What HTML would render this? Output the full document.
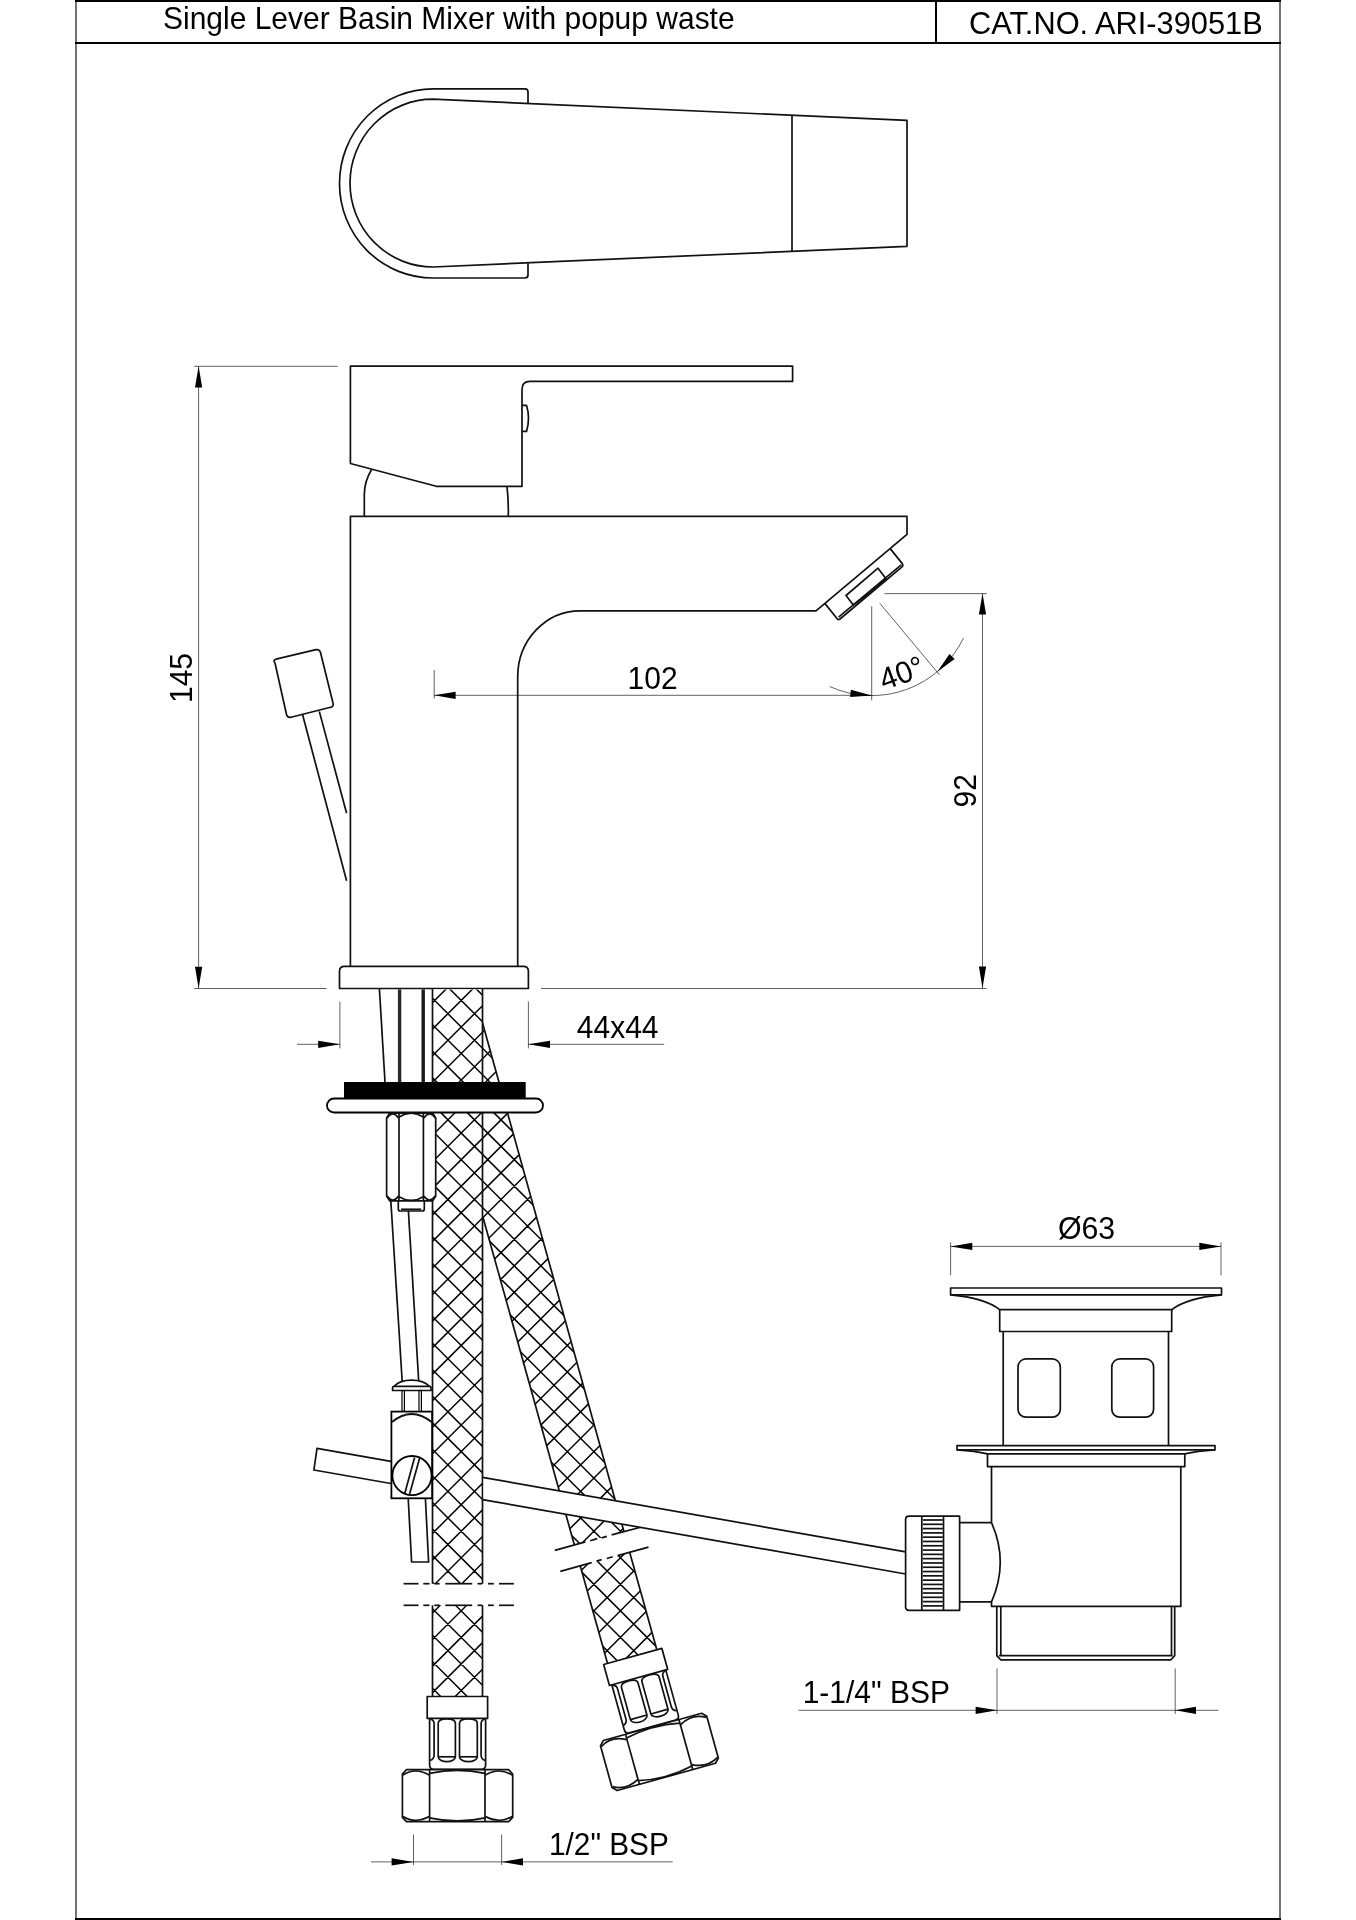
<!DOCTYPE html>
<html><head><meta charset="utf-8"><style>
html,body{margin:0;padding:0;background:#fff;}
svg{display:block;filter:grayscale(1);}
text{font-family:"Liberation Sans",sans-serif;fill:#000;}
.k{stroke:#111;stroke-width:1.7;fill:none;stroke-linejoin:round;}
.d{stroke:#000;stroke-width:0.95;fill:none;opacity:0.65;}
.h{stroke:#000;stroke-width:1.5;fill:none;}
.f1{stroke:#000;stroke-width:1.1;}
.f2{stroke:#000;stroke-width:2;}
</style></head><body>
<svg width="1356" height="1920" viewBox="0 0 1356 1920">
<g id="frame">
<line x1="75.00" y1="1.00" x2="1281.00" y2="1.00" class="f2" />
<line x1="75.00" y1="43.00" x2="1281.00" y2="43.00" class="f2" />
<line x1="936.00" y1="0.00" x2="936.00" y2="43.00" class="f2" />
<line x1="76.00" y1="0.00" x2="76.00" y2="1920.00" class="f1" />
<line x1="1280.00" y1="0.00" x2="1280.00" y2="1920.00" class="f1" />
<line x1="75.00" y1="1919.00" x2="1281.00" y2="1919.00" class="f2" />
</g>
<text x="0" y="0" transform="translate(163,28.9) scale(1,1.025)" font-size="30" >Single Lever Basin Mixer with popup waste</text>
<text x="0" y="0" transform="translate(969,33.6) scale(1,1.025)" font-size="30.8" >CAT.NO. ARI-39051B</text>
<path d="M528,103.8 L528,92 Q528,88.8 525,88.8 L433,88.8 A93.5,94.6 0 0 0 433,278 L525,278 Q528,278 528,275 L528,263.3" class="k" />
<path d="M907,120.4 L433,99.2 A83,83.9 0 0 0 433,267 L907,246.3 Z" class="k" />
<line x1="792.00" y1="115.50" x2="792.00" y2="251.40" class="k" />
<path d="M350.4,366.2 L792.6,366.2 L792.6,381.4 L530,381.4 Q522,381.4 522,389.4 L522,486.3 L436.2,486.3 L350.4,463.5 Z" class="k" />
<path d="M522,405.3 L526.5,405.3 Q530.5,418.3 526.5,431.4 L522,431.4" class="k" />
<path d="M371.6,469.5 Q364,482 364.3,496 L364.3,516" class="k" />
<path d="M507,486.3 Q508.6,500 508.3,516" class="k" />
<path d="M350.4,966.4 L350.4,516.4 L907,516.4 L907,534.4 L816,610.8 L580,610.8 A62.3,66 0 0 0 517.7,676.8 L517.7,966.4" class="k" />
<path d="M890.2,548.6 L902.3,563.6 Q903.5,565.5 902,566.8 L840,619 Q838.5,620 837.2,618.8 L825,603.6" class="k" />
<path d="M901.2,564.9 L838.6,617.2" class="k" stroke-width="1.1"/>
<path d="M846,595.5 L878,568.2 L886.2,578.9 Q871,593 853.3,605 Z" class="k" />
<path d="M339.5,988.5 L339.5,971.4 Q339.5,966.4 344.5,966.4 L523.4,966.4 Q528.4,966.4 528.4,971.4 L528.4,988.5 Z" class="k" />
<path d="M275,663 Q272.5,660.2 276,659.2 L316,649.7 Q319.5,649 320.5,652.5 L333,703 Q334,706.5 330.5,707.3 L291,717.3 Q287.5,718 286.5,714.5 Z" class="k" />
<line x1="302.60" y1="714.80" x2="346.60" y2="880.80" class="k" />
<line x1="319.30" y1="711.40" x2="346.60" y2="813.20" class="k" />
<line x1="194.20" y1="366.30" x2="337.70" y2="366.30" class="d" />
<line x1="194.20" y1="988.50" x2="326.70" y2="988.50" class="d" />
<line x1="198.60" y1="366.30" x2="198.60" y2="988.50" class="d" />
<path d="M198.60,366.30 L202.20,387.60 L195.00,387.60 Z" fill="#000"/>
<path d="M198.60,988.50 L195.00,966.70 L202.20,966.70 Z" fill="#000"/>
<text x="0" y="0" transform="translate(191.8,703) rotate(-90) scale(1,1.025)" font-size="30">145</text>
<line x1="434.20" y1="695.30" x2="871.70" y2="695.30" class="d" />
<line x1="434.20" y1="670.00" x2="434.20" y2="698.70" class="d" />
<path d="M434.20,695.30 L455.60,691.70 L455.60,698.90 Z" fill="#000"/>
<text x="0" y="0" transform="translate(627.6,688.6) scale(1,1.025)" font-size="30" >102</text>
<line x1="884.60" y1="593.60" x2="986.80" y2="593.60" class="d" />
<line x1="982.50" y1="593.60" x2="982.50" y2="988.30" class="d" />
<line x1="541.00" y1="988.50" x2="986.80" y2="988.50" class="d" />
<path d="M982.50,593.60 L986.10,614.40 L978.90,614.40 Z" fill="#000"/>
<path d="M982.50,988.30 L978.90,966.50 L986.10,966.50 Z" fill="#000"/>
<text x="0" y="0" transform="translate(976.1,807.4) rotate(-90) scale(1,1.025)" font-size="30">92</text>
<line x1="871.70" y1="606.30" x2="871.70" y2="700.40" class="d" />
<line x1="879.80" y1="603.30" x2="939.80" y2="675.20" class="d" />
<path d="M829.55,686.48 A102,102 0 0 0 963.53,638.01" class="d" />
<path d="M871.70,695.60 L850.12,696.95 L850.87,689.79 Z" fill="#000"/>
<path d="M937.26,671.74 L949.49,653.90 L954.67,658.90 Z" fill="#000"/>
<text x="0" y="0" transform="translate(884,690.6) rotate(-20) scale(1,1.025)" font-size="30">40&#176;</text>
<line x1="339.90" y1="1001.50" x2="339.90" y2="1048.40" class="d" />
<line x1="528.40" y1="1001.50" x2="528.40" y2="1048.40" class="d" />
<line x1="297.00" y1="1044.30" x2="339.90" y2="1044.30" class="d" />
<path d="M339.90,1044.30 L318.20,1047.90 L318.20,1040.70 Z" fill="#000"/>
<line x1="528.40" y1="1044.30" x2="664.20" y2="1044.30" class="d" />
<path d="M528.40,1044.30 L550.00,1040.70 L550.00,1047.90 Z" fill="#000"/>
<text x="0" y="0" transform="translate(576.8,1038.3) scale(1,1.025)" font-size="30" >44x44</text>
<defs>
<clipPath id="c1"><rect x="432.5" y="989.4" width="50" height="594.3"/><rect x="432.5" y="1605.3" width="50" height="91.2"/></clipPath>
<clipPath id="c2a"><polygon points="482.5,1022.6 624.0,1531.8 574.4,1545.1 482.7,1218"/></clipPath>
<clipPath id="c2b"><polygon points="580.3,1566.0 629.8,1552.7 656.9,1650.0 607.4,1663.1"/></clipPath>
</defs>
<g clip-path="url(#c2a)"><path d="M420.0,935.5 L720.0,635.5 M420.0,962.0 L720.0,662.0 M420.0,988.5 L720.0,688.5 M420.0,1015.1 L720.0,715.1 M420.0,1041.6 L720.0,741.6 M420.0,1068.2 L720.0,768.2 M420.0,1094.7 L720.0,794.7 M420.0,1121.2 L720.0,821.2 M420.0,1147.8 L720.0,847.8 M420.0,1174.3 L720.0,874.3 M420.0,1200.9 L720.0,900.9 M420.0,1227.4 L720.0,927.4 M420.0,1253.9 L720.0,953.9 M420.0,1280.5 L720.0,980.5 M420.0,1307.0 L720.0,1007.0 M420.0,1333.6 L720.0,1033.6 M420.0,1360.1 L720.0,1060.1 M420.0,1386.6 L720.0,1086.6 M420.0,1413.2 L720.0,1113.2 M420.0,1439.7 L720.0,1139.7 M420.0,1466.3 L720.0,1166.3 M420.0,1492.8 L720.0,1192.8 M420.0,1519.3 L720.0,1219.3 M420.0,1545.9 L720.0,1245.9 M420.0,1572.4 L720.0,1272.4 M420.0,1599.0 L720.0,1299.0 M420.0,1625.5 L720.0,1325.5 M420.0,1652.0 L720.0,1352.0 M420.0,1678.6 L720.0,1378.6 M420.0,1705.1 L720.0,1405.1 M420.0,1731.7 L720.0,1431.7 M420.0,1758.2 L720.0,1458.2 M420.0,1784.7 L720.0,1484.7 M420.0,1811.3 L720.0,1511.3 M420.0,1837.8 L720.0,1537.8 M420.0,1864.4 L720.0,1564.4 M420.0,1890.9 L720.0,1590.9 M420.0,1917.4 L720.0,1617.4 M420.0,1944.0 L720.0,1644.0 M420.0,1970.5 L720.0,1670.5 M420.0,1997.1 L720.0,1697.1 M420.0,2023.6 L720.0,1723.6 M420.0,2050.1 L720.0,1750.1 M420.0,640.8 L720.0,940.8 M420.0,667.3 L720.0,967.3 M420.0,693.8 L720.0,993.8 M420.0,720.4 L720.0,1020.4 M420.0,746.9 L720.0,1046.9 M420.0,773.5 L720.0,1073.5 M420.0,800.0 L720.0,1100.0 M420.0,826.5 L720.0,1126.5 M420.0,853.1 L720.0,1153.1 M420.0,879.6 L720.0,1179.6 M420.0,906.2 L720.0,1206.2 M420.0,932.7 L720.0,1232.7 M420.0,959.2 L720.0,1259.2 M420.0,985.8 L720.0,1285.8 M420.0,1012.3 L720.0,1312.3 M420.0,1038.9 L720.0,1338.9 M420.0,1065.4 L720.0,1365.4 M420.0,1091.9 L720.0,1391.9 M420.0,1118.5 L720.0,1418.5 M420.0,1145.0 L720.0,1445.0 M420.0,1171.6 L720.0,1471.6 M420.0,1198.1 L720.0,1498.1 M420.0,1224.6 L720.0,1524.6 M420.0,1251.2 L720.0,1551.2 M420.0,1277.7 L720.0,1577.7 M420.0,1304.3 L720.0,1604.3 M420.0,1330.8 L720.0,1630.8 M420.0,1357.3 L720.0,1657.3 M420.0,1383.9 L720.0,1683.9 M420.0,1410.4 L720.0,1710.4 M420.0,1437.0 L720.0,1737.0 M420.0,1463.5 L720.0,1763.5 M420.0,1490.0 L720.0,1790.0 M420.0,1516.6 L720.0,1816.6 M420.0,1543.1 L720.0,1843.1 M420.0,1569.7 L720.0,1869.7 M420.0,1596.2 L720.0,1896.2 M420.0,1622.7 L720.0,1922.7 M420.0,1649.3 L720.0,1949.3 M420.0,1675.8 L720.0,1975.8 M420.0,1702.4 L720.0,2002.4 M420.0,1728.9 L720.0,2028.9" class="h"/></g>
<g clip-path="url(#c2b)"><path d="M420.0,935.5 L720.0,635.5 M420.0,962.0 L720.0,662.0 M420.0,988.5 L720.0,688.5 M420.0,1015.1 L720.0,715.1 M420.0,1041.6 L720.0,741.6 M420.0,1068.2 L720.0,768.2 M420.0,1094.7 L720.0,794.7 M420.0,1121.2 L720.0,821.2 M420.0,1147.8 L720.0,847.8 M420.0,1174.3 L720.0,874.3 M420.0,1200.9 L720.0,900.9 M420.0,1227.4 L720.0,927.4 M420.0,1253.9 L720.0,953.9 M420.0,1280.5 L720.0,980.5 M420.0,1307.0 L720.0,1007.0 M420.0,1333.6 L720.0,1033.6 M420.0,1360.1 L720.0,1060.1 M420.0,1386.6 L720.0,1086.6 M420.0,1413.2 L720.0,1113.2 M420.0,1439.7 L720.0,1139.7 M420.0,1466.3 L720.0,1166.3 M420.0,1492.8 L720.0,1192.8 M420.0,1519.3 L720.0,1219.3 M420.0,1545.9 L720.0,1245.9 M420.0,1572.4 L720.0,1272.4 M420.0,1599.0 L720.0,1299.0 M420.0,1625.5 L720.0,1325.5 M420.0,1652.0 L720.0,1352.0 M420.0,1678.6 L720.0,1378.6 M420.0,1705.1 L720.0,1405.1 M420.0,1731.7 L720.0,1431.7 M420.0,1758.2 L720.0,1458.2 M420.0,1784.7 L720.0,1484.7 M420.0,1811.3 L720.0,1511.3 M420.0,1837.8 L720.0,1537.8 M420.0,1864.4 L720.0,1564.4 M420.0,1890.9 L720.0,1590.9 M420.0,1917.4 L720.0,1617.4 M420.0,1944.0 L720.0,1644.0 M420.0,1970.5 L720.0,1670.5 M420.0,1997.1 L720.0,1697.1 M420.0,2023.6 L720.0,1723.6 M420.0,2050.1 L720.0,1750.1 M420.0,640.8 L720.0,940.8 M420.0,667.3 L720.0,967.3 M420.0,693.8 L720.0,993.8 M420.0,720.4 L720.0,1020.4 M420.0,746.9 L720.0,1046.9 M420.0,773.5 L720.0,1073.5 M420.0,800.0 L720.0,1100.0 M420.0,826.5 L720.0,1126.5 M420.0,853.1 L720.0,1153.1 M420.0,879.6 L720.0,1179.6 M420.0,906.2 L720.0,1206.2 M420.0,932.7 L720.0,1232.7 M420.0,959.2 L720.0,1259.2 M420.0,985.8 L720.0,1285.8 M420.0,1012.3 L720.0,1312.3 M420.0,1038.9 L720.0,1338.9 M420.0,1065.4 L720.0,1365.4 M420.0,1091.9 L720.0,1391.9 M420.0,1118.5 L720.0,1418.5 M420.0,1145.0 L720.0,1445.0 M420.0,1171.6 L720.0,1471.6 M420.0,1198.1 L720.0,1498.1 M420.0,1224.6 L720.0,1524.6 M420.0,1251.2 L720.0,1551.2 M420.0,1277.7 L720.0,1577.7 M420.0,1304.3 L720.0,1604.3 M420.0,1330.8 L720.0,1630.8 M420.0,1357.3 L720.0,1657.3 M420.0,1383.9 L720.0,1683.9 M420.0,1410.4 L720.0,1710.4 M420.0,1437.0 L720.0,1737.0 M420.0,1463.5 L720.0,1763.5 M420.0,1490.0 L720.0,1790.0 M420.0,1516.6 L720.0,1816.6 M420.0,1543.1 L720.0,1843.1 M420.0,1569.7 L720.0,1869.7 M420.0,1596.2 L720.0,1896.2 M420.0,1622.7 L720.0,1922.7 M420.0,1649.3 L720.0,1949.3 M420.0,1675.8 L720.0,1975.8 M420.0,1702.4 L720.0,2002.4 M420.0,1728.9 L720.0,2028.9" class="h"/></g>
<path d="M482.4,1022.6 L624.0,1531.8" class="k" />
<path d="M482.9,1217 L574.4,1545.1" class="k" />
<path d="M580.3,1566.0 L607.4,1663.1" class="k" />
<path d="M629.8,1552.7 L656.9,1650.0" class="k" />
<rect x="432.5" y="989.4" width="50" height="707.1" fill="#fff"/>
<rect x="482.5" y="1583.7" width="0" height="0" fill="#fff"/>
<g clip-path="url(#c1)"><path d="M420.0,935.5 L720.0,635.5 M420.0,962.0 L720.0,662.0 M420.0,988.5 L720.0,688.5 M420.0,1015.1 L720.0,715.1 M420.0,1041.6 L720.0,741.6 M420.0,1068.2 L720.0,768.2 M420.0,1094.7 L720.0,794.7 M420.0,1121.2 L720.0,821.2 M420.0,1147.8 L720.0,847.8 M420.0,1174.3 L720.0,874.3 M420.0,1200.9 L720.0,900.9 M420.0,1227.4 L720.0,927.4 M420.0,1253.9 L720.0,953.9 M420.0,1280.5 L720.0,980.5 M420.0,1307.0 L720.0,1007.0 M420.0,1333.6 L720.0,1033.6 M420.0,1360.1 L720.0,1060.1 M420.0,1386.6 L720.0,1086.6 M420.0,1413.2 L720.0,1113.2 M420.0,1439.7 L720.0,1139.7 M420.0,1466.3 L720.0,1166.3 M420.0,1492.8 L720.0,1192.8 M420.0,1519.3 L720.0,1219.3 M420.0,1545.9 L720.0,1245.9 M420.0,1572.4 L720.0,1272.4 M420.0,1599.0 L720.0,1299.0 M420.0,1625.5 L720.0,1325.5 M420.0,1652.0 L720.0,1352.0 M420.0,1678.6 L720.0,1378.6 M420.0,1705.1 L720.0,1405.1 M420.0,1731.7 L720.0,1431.7 M420.0,1758.2 L720.0,1458.2 M420.0,1784.7 L720.0,1484.7 M420.0,1811.3 L720.0,1511.3 M420.0,1837.8 L720.0,1537.8 M420.0,1864.4 L720.0,1564.4 M420.0,1890.9 L720.0,1590.9 M420.0,1917.4 L720.0,1617.4 M420.0,1944.0 L720.0,1644.0 M420.0,1970.5 L720.0,1670.5 M420.0,1997.1 L720.0,1697.1 M420.0,2023.6 L720.0,1723.6 M420.0,2050.1 L720.0,1750.1 M420.0,640.8 L720.0,940.8 M420.0,667.3 L720.0,967.3 M420.0,693.8 L720.0,993.8 M420.0,720.4 L720.0,1020.4 M420.0,746.9 L720.0,1046.9 M420.0,773.5 L720.0,1073.5 M420.0,800.0 L720.0,1100.0 M420.0,826.5 L720.0,1126.5 M420.0,853.1 L720.0,1153.1 M420.0,879.6 L720.0,1179.6 M420.0,906.2 L720.0,1206.2 M420.0,932.7 L720.0,1232.7 M420.0,959.2 L720.0,1259.2 M420.0,985.8 L720.0,1285.8 M420.0,1012.3 L720.0,1312.3 M420.0,1038.9 L720.0,1338.9 M420.0,1065.4 L720.0,1365.4 M420.0,1091.9 L720.0,1391.9 M420.0,1118.5 L720.0,1418.5 M420.0,1145.0 L720.0,1445.0 M420.0,1171.6 L720.0,1471.6 M420.0,1198.1 L720.0,1498.1 M420.0,1224.6 L720.0,1524.6 M420.0,1251.2 L720.0,1551.2 M420.0,1277.7 L720.0,1577.7 M420.0,1304.3 L720.0,1604.3 M420.0,1330.8 L720.0,1630.8 M420.0,1357.3 L720.0,1657.3 M420.0,1383.9 L720.0,1683.9 M420.0,1410.4 L720.0,1710.4 M420.0,1437.0 L720.0,1737.0 M420.0,1463.5 L720.0,1763.5 M420.0,1490.0 L720.0,1790.0 M420.0,1516.6 L720.0,1816.6 M420.0,1543.1 L720.0,1843.1 M420.0,1569.7 L720.0,1869.7 M420.0,1596.2 L720.0,1896.2 M420.0,1622.7 L720.0,1922.7 M420.0,1649.3 L720.0,1949.3 M420.0,1675.8 L720.0,1975.8 M420.0,1702.4 L720.0,2002.4 M420.0,1728.9 L720.0,2028.9" class="h"/></g>
<line x1="432.50" y1="1200.80" x2="432.50" y2="1583.70" class="k" />
<line x1="432.50" y1="988.50" x2="432.50" y2="1112.60" class="k" />
<line x1="482.50" y1="988.50" x2="482.50" y2="1583.70" class="k" />
<line x1="432.50" y1="1605.30" x2="432.50" y2="1696.50" class="k" />
<line x1="482.50" y1="1605.30" x2="482.50" y2="1696.50" class="k" />
<line x1="403.60" y1="1583.70" x2="418.50" y2="1583.70" class="k" stroke-width="2"/>
<line x1="423.30" y1="1583.70" x2="429.50" y2="1583.70" class="k" stroke-width="2"/>
<line x1="434.30" y1="1583.70" x2="439.60" y2="1583.70" class="k" stroke-width="2"/>
<line x1="445.30" y1="1583.70" x2="472.20" y2="1583.70" class="k" stroke-width="2"/>
<line x1="477.50" y1="1583.70" x2="482.20" y2="1583.70" class="k" stroke-width="2"/>
<line x1="488.00" y1="1583.70" x2="493.80" y2="1583.70" class="k" stroke-width="2"/>
<line x1="499.00" y1="1583.70" x2="513.90" y2="1583.70" class="k" stroke-width="2"/>
<line x1="403.60" y1="1605.30" x2="418.50" y2="1605.30" class="k" stroke-width="2"/>
<line x1="423.30" y1="1605.30" x2="429.50" y2="1605.30" class="k" stroke-width="2"/>
<line x1="434.30" y1="1605.30" x2="439.60" y2="1605.30" class="k" stroke-width="2"/>
<line x1="445.30" y1="1605.30" x2="472.20" y2="1605.30" class="k" stroke-width="2"/>
<line x1="477.50" y1="1605.30" x2="482.20" y2="1605.30" class="k" stroke-width="2"/>
<line x1="488.00" y1="1605.30" x2="493.80" y2="1605.30" class="k" stroke-width="2"/>
<line x1="499.00" y1="1605.30" x2="513.90" y2="1605.30" class="k" stroke-width="2"/>
<path d="M554.8,1550.4 L585.4,1541.9 M590.2,1540.8 L597.2,1538.6 M601.6,1537.9 L606.8,1536.4 M611.6,1534.9 L642.5,1526.8" class="k" />
<path d="M560.3,1571.4 L591.7,1562.6 M596.5,1561.1 L601.6,1559.6 M606.8,1558.5 L612.7,1556.7 M617.5,1555.6 L648.5,1547.1" class="k" />
<line x1="379.40" y1="988.50" x2="385.00" y2="1082.00" class="k" />
<rect x="397.9" y="989.4" width="3.4" height="92.6" fill="#2a2a2a"/>
<rect x="421.5" y="989.4" width="3.4" height="92.6" fill="#1a1a1a"/>
<rect x="344" y="1082" width="181.7" height="16" fill="#000"/>
<rect x="327" y="1098.5" width="216" height="14" rx="7" fill="#fff" stroke="#000" stroke-width="1.8"/>
<path d="M389.6,1113.2 L432.7,1113.2 L435.7,1117.9 L435.7,1196 L432.7,1200.8 L389.6,1200.8 L386.6,1196 L386.6,1117.9 Z" class="k" style="fill:#fff"/>
<line x1="399.00" y1="1113.20" x2="399.00" y2="1200.80" class="k" />
<line x1="423.40" y1="1113.20" x2="423.40" y2="1200.80" class="k" />
<path d="M399,1117 Q411.1,1109.5 423.4,1117" class="k" />
<path d="M399,1196.6 Q411.1,1204.3 423.4,1196.6" class="k" />
<path d="M387.2,1118 Q393,1110 398.6,1118" class="k" />
<path d="M423.8,1118 Q429.5,1110 435.2,1118" class="k" />
<path d="M387.2,1196 Q393,1204 398.6,1196" class="k" />
<path d="M423.8,1196 Q429.5,1204 435.2,1196" class="k" />
<path d="M398.3,1200.8 L398.3,1209 Q398.3,1211 400.3,1211 L422.3,1211 Q424.3,1211 424.3,1209 L424.3,1200.8" class="k" />
<line x1="401.00" y1="1209.30" x2="421.30" y2="1209.30" class="k" stroke-width="1"/>
<line x1="390.80" y1="1200.80" x2="402.20" y2="1381.20" class="k" />
<line x1="408.40" y1="1211.00" x2="418.70" y2="1381.20" class="k" />
<path d="M317,1448.3 L432.5,1468.60 L432.5,1490.84 L313.9,1470 Z" fill="#fff"/>
<path d="M483.5,1477.57 L905.7,1551.79 L905.7,1573.98 L483.5,1499.80 Z" fill="#fff"/>
<path d="M390.9,1461.29 L317,1448.3 L313.9,1470 L390.9,1483.53" class="k" />
<line x1="482.50" y1="1477.39" x2="905.70" y2="1551.79" class="k" />
<line x1="482.50" y1="1499.62" x2="905.70" y2="1573.98" class="k" />
<path d="M392.6,1390.5 L392.6,1387.5 Q392.6,1386.3 394,1386.3 Q400,1380.2 411.5,1380.2 Q423,1380.2 429.5,1386.3 Q431,1386.3 431,1387.5 L431,1390.5 Z" class="k" style="fill:#fff"/>
<line x1="394.00" y1="1386.30" x2="429.50" y2="1386.30" class="k" stroke-width="1.2"/>
<rect x="402" y="1390.5" width="2.4" height="21" fill="none" stroke="#000" stroke-width="1.2"/>
<rect x="419" y="1390.5" width="2.4" height="21" fill="none" stroke="#000" stroke-width="1.2"/>
<rect x="391.4" y="1411.6" width="40.7" height="86.7" fill="#fff" stroke="#000" stroke-width="1.8"/>
<path d="M392,1422 Q411.5,1406 431.6,1422" class="k" />
<circle cx="412" cy="1475.6" r="19.6" fill="none" stroke="#000" stroke-width="1.8"/>
<line x1="414.60" y1="1457.60" x2="404.80" y2="1493.20" class="k" stroke-width="1.5"/>
<line x1="419.80" y1="1457.60" x2="409.40" y2="1494.70" class="k" stroke-width="1.5"/>
<path d="M408.2,1498.3 L411.6,1562 L428.6,1562 L425.4,1498.3" class="k" />
<path d="M427.2,1696.5 L487.6,1696.5 L487.6,1718.3 L427.2,1718.3 Z" class="k" style="fill:#fff"/>
<path d="M429.6,1718.3 L429.6,1765 Q429.6,1769.3 433.6,1769.3 L481.6,1769.3 Q485.6,1769.3 485.6,1765 L485.6,1718.3" class="k" />
<path d="M430.5,1719.2 Q434.1,1720 434.1,1724 L434.1,1755 Q434.1,1759 430.2,1760.5" class="k" stroke-width="1.5"/>
<path d="M484.7,1719.2 Q481.1,1720 481.1,1724 L481.1,1755 Q481.1,1759 485,1760.5" class="k" stroke-width="1.5"/>
<path d="M438.2,1723.5 Q438.2,1718.9 446.79999999999995,1718.9 Q455.4,1718.9 455.4,1723.5 L455.4,1756.8 A8.599999999999994,4.8 0 0 1 438.2,1756.8 Z" class="k" stroke-width="1.5"/>
<path d="M438.2,1756.8 L455.4,1756.8" class="k" stroke-width="1.3"/>
<path d="M459.5,1723.5 Q459.5,1718.9 468.4,1718.9 Q477.3,1718.9 477.3,1723.5 L477.3,1756.8 A8.900000000000006,4.8 0 0 1 459.5,1756.8 Z" class="k" stroke-width="1.5"/>
<path d="M459.5,1756.8 L477.3,1756.8" class="k" stroke-width="1.3"/>
<path d="M406.5,1769.7 L508.6,1769.7 L512.7,1774 L512.7,1817.3 L508.6,1821.6 L406.5,1821.6 L402.4,1817.3 L402.4,1774 Z" class="k" style="fill:#fff"/>
<path d="M429.6,1769.7 L429.6,1821.6" class="k" />
<path d="M485,1769.7 L485,1821.6" class="k" />
<path d="M429.6,1773.4 Q457.3,1767.5 485,1773.4" class="k" />
<path d="M429.6,1817.8 Q457.3,1824 485,1817.8" class="k" />
<path d="M403,1775 Q415,1767 429.2,1775" class="k" stroke-width="1.5"/>
<path d="M485.4,1775 Q499,1767 512.2,1775" class="k" stroke-width="1.5"/>
<path d="M403,1816.5 Q415,1824 429.2,1816.5" class="k" stroke-width="1.5"/>
<path d="M485.4,1816.5 Q499,1824 512.2,1816.5" class="k" stroke-width="1.5"/>
<g transform="translate(632.75,1656.4) rotate(-15.5) translate(-457.4,-1696.5)"><path d="M427.2,1696.5 L487.6,1696.5 L487.6,1718.3 L427.2,1718.3 Z" class="k" style="fill:#fff"/>
<path d="M429.6,1718.3 L429.6,1765 Q429.6,1769.3 433.6,1769.3 L481.6,1769.3 Q485.6,1769.3 485.6,1765 L485.6,1718.3" class="k" />
<path d="M430.5,1719.2 Q434.1,1720 434.1,1724 L434.1,1755 Q434.1,1759 430.2,1760.5" class="k" stroke-width="1.5"/>
<path d="M484.7,1719.2 Q481.1,1720 481.1,1724 L481.1,1755 Q481.1,1759 485,1760.5" class="k" stroke-width="1.5"/>
<path d="M438.2,1723.5 Q438.2,1718.9 446.79999999999995,1718.9 Q455.4,1718.9 455.4,1723.5 L455.4,1756.8 A8.599999999999994,4.8 0 0 1 438.2,1756.8 Z" class="k" stroke-width="1.5"/>
<path d="M438.2,1756.8 L455.4,1756.8" class="k" stroke-width="1.3"/>
<path d="M459.5,1723.5 Q459.5,1718.9 468.4,1718.9 Q477.3,1718.9 477.3,1723.5 L477.3,1756.8 A8.900000000000006,4.8 0 0 1 459.5,1756.8 Z" class="k" stroke-width="1.5"/>
<path d="M459.5,1756.8 L477.3,1756.8" class="k" stroke-width="1.3"/>
<path d="M406.5,1769.7 L508.6,1769.7 L512.7,1774 L512.7,1817.3 L508.6,1821.6 L406.5,1821.6 L402.4,1817.3 L402.4,1774 Z" class="k" style="fill:#fff"/>
<path d="M429.6,1769.7 L429.6,1821.6" class="k" />
<path d="M485,1769.7 L485,1821.6" class="k" />
<path d="M429.6,1773.4 Q457.3,1767.5 485,1773.4" class="k" />
<path d="M429.6,1817.8 Q457.3,1824 485,1817.8" class="k" />
<path d="M403,1775 Q415,1767 429.2,1775" class="k" stroke-width="1.5"/>
<path d="M485.4,1775 Q499,1767 512.2,1775" class="k" stroke-width="1.5"/>
<path d="M403,1816.5 Q415,1824 429.2,1816.5" class="k" stroke-width="1.5"/>
<path d="M485.4,1816.5 Q499,1824 512.2,1816.5" class="k" stroke-width="1.5"/></g>
<g id="drain">
<path d="M950.6,1288 L1221.5,1288 L1221.5,1294.9 L950.6,1294.9 Z" class="k" />
<path d="M950.6,1294.9 Q985,1298 999.7,1309.7 L1171.7,1309.7 Q1187,1298 1221.5,1294.9" class="k" />
<path d="M999.7,1309.7 L999.7,1331.5 L1171.7,1331.5 L1171.7,1309.7" class="k" />
<line x1="1003.20" y1="1331.50" x2="1003.20" y2="1445.80" class="k" />
<line x1="1168.50" y1="1331.50" x2="1168.50" y2="1445.80" class="k" />
<rect x="1018" y="1358.9" width="42.3" height="58.3" rx="8" class="k"/>
<rect x="1111.8" y="1358.9" width="41.8" height="58.3" rx="8" class="k"/>
<path d="M957,1445.6 L1215,1445.6 L1215,1449.9 L957,1449.9 Z" class="k" />
<path d="M957,1449.9 Q975,1451 987.5,1453.9 L1184.8,1453.9 Q1197,1451 1215,1449.9" class="k" />
<path d="M987.5,1453.9 L987.5,1466.6 L1184.8,1466.6 L1184.8,1453.9" class="k" />
<path d="M991.5,1466.6 L991.5,1522.7 L959.6,1522.7 M991.5,1522.7 Q1009,1562 991.5,1601.9 L959.6,1601.9 M991.5,1601.9 L991.5,1606.3 L1180.8,1606.3 L1180.8,1466.6" class="k" />
<path d="M959.6,1516.1 L909,1516.1 Q905.6,1516.1 905.6,1519.5 L905.6,1607 Q905.6,1610.3 909,1610.3 L959.6,1610.3 Z" class="k" />
<line x1="921.80" y1="1516.10" x2="921.80" y2="1610.30" class="k" />
<line x1="943.50" y1="1516.10" x2="943.50" y2="1610.30" class="k" />
<line x1="922.90" y1="1520.00" x2="942.80" y2="1520.00" class="k" stroke-width="1.7"/>
<line x1="922.90" y1="1524.30" x2="942.80" y2="1524.30" class="k" stroke-width="1.7"/>
<line x1="922.90" y1="1528.59" x2="942.80" y2="1528.59" class="k" stroke-width="1.7"/>
<line x1="922.90" y1="1532.88" x2="942.80" y2="1532.88" class="k" stroke-width="1.7"/>
<line x1="922.90" y1="1537.18" x2="942.80" y2="1537.18" class="k" stroke-width="1.7"/>
<line x1="922.90" y1="1541.47" x2="942.80" y2="1541.47" class="k" stroke-width="1.7"/>
<line x1="922.90" y1="1545.77" x2="942.80" y2="1545.77" class="k" stroke-width="1.7"/>
<line x1="922.90" y1="1550.07" x2="942.80" y2="1550.07" class="k" stroke-width="1.7"/>
<line x1="922.90" y1="1554.36" x2="942.80" y2="1554.36" class="k" stroke-width="1.7"/>
<line x1="922.90" y1="1558.65" x2="942.80" y2="1558.65" class="k" stroke-width="1.7"/>
<line x1="922.90" y1="1562.95" x2="942.80" y2="1562.95" class="k" stroke-width="1.7"/>
<line x1="922.90" y1="1567.25" x2="942.80" y2="1567.25" class="k" stroke-width="1.7"/>
<line x1="922.90" y1="1571.54" x2="942.80" y2="1571.54" class="k" stroke-width="1.7"/>
<line x1="922.90" y1="1575.84" x2="942.80" y2="1575.84" class="k" stroke-width="1.7"/>
<line x1="922.90" y1="1580.13" x2="942.80" y2="1580.13" class="k" stroke-width="1.7"/>
<line x1="922.90" y1="1584.43" x2="942.80" y2="1584.43" class="k" stroke-width="1.7"/>
<line x1="922.90" y1="1588.72" x2="942.80" y2="1588.72" class="k" stroke-width="1.7"/>
<line x1="922.90" y1="1593.02" x2="942.80" y2="1593.02" class="k" stroke-width="1.7"/>
<line x1="922.90" y1="1597.31" x2="942.80" y2="1597.31" class="k" stroke-width="1.7"/>
<line x1="922.90" y1="1601.61" x2="942.80" y2="1601.61" class="k" stroke-width="1.7"/>
<line x1="922.90" y1="1605.90" x2="942.80" y2="1605.90" class="k" stroke-width="1.7"/>
<path d="M996.8,1606.3 L996.8,1655.6 L1000.6,1659.8 L1170.9,1659.8 L1174.7,1655.6 L1174.7,1606.3" class="k" />
<line x1="1000.80" y1="1606.30" x2="1000.80" y2="1655.60" class="k" stroke-width="1.3"/>
<line x1="1171.50" y1="1606.30" x2="1171.50" y2="1655.60" class="k" stroke-width="1.3"/>
<line x1="999.00" y1="1655.60" x2="1172.50" y2="1655.60" class="k" stroke-width="1.3"/>
</g>
<line x1="950.60" y1="1246.40" x2="1221.00" y2="1246.40" class="d" />
<line x1="950.60" y1="1242.30" x2="950.60" y2="1275.40" class="d" />
<line x1="1221.00" y1="1242.30" x2="1221.00" y2="1275.40" class="d" />
<path d="M950.60,1246.40 L972.30,1242.80 L972.30,1250.00 Z" fill="#000"/>
<path d="M1221.00,1246.40 L1199.30,1250.00 L1199.30,1242.80 Z" fill="#000"/>
<text x="0" y="0" transform="translate(1057.9,1238.5) scale(1,1.025)" font-size="30.3" >&#216;63</text>
<line x1="997.00" y1="1668.40" x2="997.00" y2="1714.00" class="d" />
<line x1="1175.20" y1="1668.40" x2="1175.20" y2="1714.00" class="d" />
<line x1="798.50" y1="1710.30" x2="1218.50" y2="1710.30" class="d" />
<path d="M997.00,1710.30 L975.60,1713.90 L975.60,1706.70 Z" fill="#000"/>
<path d="M1175.20,1710.30 L1196.00,1706.70 L1196.00,1713.90 Z" fill="#000"/>
<text x="0" y="0" transform="translate(802.7,1703.4) scale(1,1.025)" font-size="30" >1-1/4" BSP</text>
<line x1="413.50" y1="1834.60" x2="413.50" y2="1865.00" class="d" />
<line x1="501.60" y1="1834.60" x2="501.60" y2="1865.00" class="d" />
<line x1="371.00" y1="1861.90" x2="672.70" y2="1861.90" class="d" />
<path d="M413.50,1861.90 L391.60,1865.50 L391.60,1858.30 Z" fill="#000"/>
<path d="M501.60,1861.90 L523.00,1858.30 L523.00,1865.50 Z" fill="#000"/>
<text x="0" y="0" transform="translate(549,1854.9) scale(1,1.025)" font-size="29.8" >1/2" BSP</text>
</svg></body></html>
